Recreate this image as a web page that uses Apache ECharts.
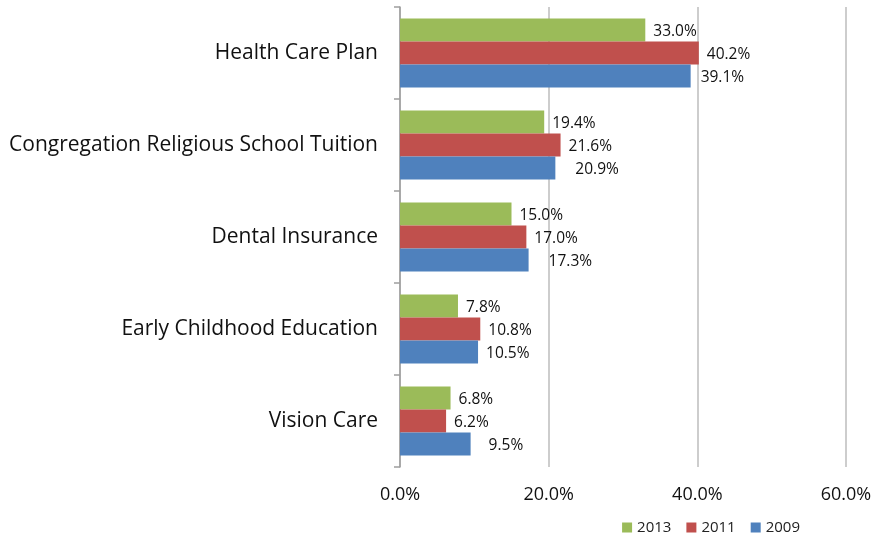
<!DOCTYPE html>
<html>
<head>
<meta charset="utf-8">
<script src="https://cdn.jsdelivr.net/npm/echarts@6/dist/echarts.min.js"></script>
<style>
  html, body { margin: 0; padding: 0; background: #fff; }
  #chart { width: 877px; height: 544px; }
</style>
</head>
<body>
<div id="chart"></div>
<script>
// Benefit categories, top to bottom
const categories = [
  'Health Care Plan',
  'Congregation Religious School Tuition',
  'Dental Insurance',
  'Early Childhood Education',
  'Vision Care'
];
// Share of respondents (%) by survey year
const values2013 = [33.0, 19.4, 15.0, 7.8, 6.8];
const values2011 = [40.2, 21.6, 17.0, 10.8, 6.2];
const values2009 = [39.1, 20.9, 17.3, 10.5, 9.5];
const xTicks = [0, 20, 40, 60];

const FONT = '"Open Sans", "Noto Sans", sans-serif';

function makeSeries(name, data, color, distances) {
  return {
    name: name,
    type: 'bar',
    data: data.map((v, i) => ({
      value: v,
      label: { distance: distances ? distances[i] : 8 }
    })),
    itemStyle: { color: color },
    barWidth: 23,
    barGap: '0%',
    label: {
      show: true,
      position: 'right',
      offset: [0, 2],
      color: '#111',
      fontFamily: FONT,
      fontSize: 15.5,
      formatter: p => p.value.toFixed(1) + '%'
    }
  };
}

const chart = echarts.init(document.getElementById('chart'));
chart.setOption({
  animation: false,
  textStyle: { fontFamily: FONT },
  grid: { left: 400, right: 31, top: 7, bottom: 77, containLabel: false },
  legend: {
    right: 72,
    bottom: 4,
    itemWidth: 10,
    itemHeight: 10,
    itemGap: 15,
    icon: 'rect',
    textStyle: { fontSize: 15, color: '#222', fontFamily: FONT },
    data: ['2013', '2011', '2009']
  },
  xAxis: {
    type: 'value',
    min: xTicks[0],
    max: xTicks[xTicks.length - 1],
    interval: 20,
    axisLine: { show: false },
    axisTick: { show: false },
    splitLine: { lineStyle: { color: '#bdbdbd', width: 1.5 } },
    axisLabel: {
      fontSize: 18,
      color: '#111',
      margin: 19,
      formatter: v => v.toFixed(1) + '%'
    }
  },
  yAxis: {
    type: 'category',
    inverse: true,
    data: categories,
    axisLine: { show: true, lineStyle: { color: '#9e9e9e', width: 1.5 } },
    axisTick: { show: true, inside: false, length: 6, lineStyle: { color: '#9e9e9e', width: 1.5 } },
    axisLabel: { fontSize: 21, color: '#111', margin: 22 }
  },
  series: [
    makeSeries('2013', values2013, '#9bbb59'),
    makeSeries('2011', values2011, '#c0504d'),
    makeSeries('2009', values2009, '#4f81bd', [10, 20, 20, 8, 18])
  ]
});
</script>
</body>
</html>
